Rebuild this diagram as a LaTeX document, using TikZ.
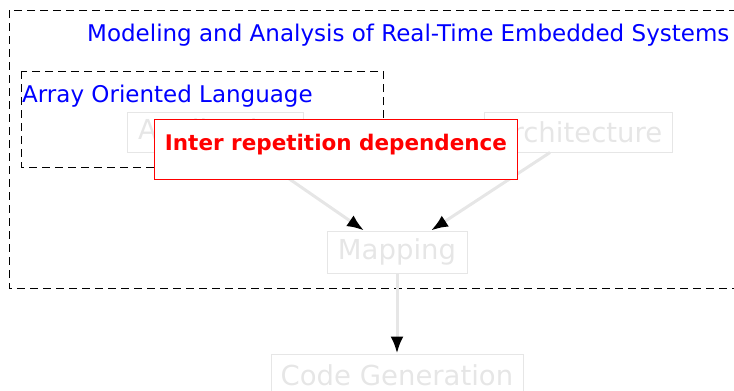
\documentclass[tikz,border=0pt]{standalone}
\usepackage{fontspec}
\setmainfont{DejaVu Sans}
\usepackage{xcolor}
\usetikzlibrary{calc,arrows.meta}

\definecolor{faded}{HTML}{E6E6E6}

\begin{document}
\begin{tikzpicture}[x=1pt,y=-1pt,
		stage/.style={draw=faded,line width=1pt,text=faded,inner sep=0pt,
			font=\fontsize{27.5}{33}\selectfont},
		frame/.style={draw,line width=1pt,dash pattern=on 8pt off 5pt},
		flow/.style={draw=faded,line width=3pt,
			-{Latex[black,length=17pt,width=13pt]}},
		caption/.style={text=blue,inner sep=0pt,font=\fontsize{23}{28}\selectfont}]
	\useasboundingbox (0,0) rectangle (734,391);
	\clip (0,0) rectangle (734,391);

	% outer and inner groups
	\draw[frame] (9,10) rectangle (745,288);
	\node[caption,anchor=base west] (title) at (87,41) {Modeling and Analysis of Real-Time Embedded Systems};
	\draw[frame] (21,71) rectangle (383,167);
	\node[caption,anchor=base west] (aol) at (22,102) {Array Oriented Language};

	% the flow
	\node[stage,minimum width=176,minimum height=40] (app) at (215,132) {Application};
	\node[stage,minimum width=188,minimum height=40] (arch) at (578,132) {Architecture};
	\node[stage,minimum width=140,minimum height=42] (map) at (397,252) {Mapping};
	\node[stage,minimum width=252,minimum height=42] (codegen) at (397,375) {Code Generation};

	\draw[flow] ([xshift=36]app.south) -- ([xshift=-33]map.north);
	\draw[flow] ([xshift=-28]arch.south) -- ([xshift=34]map.north);
	\draw[flow] (map.south) -- (codegen.north);

	% highlighted note on top
	\node[draw=red,line width=1pt,fill=white,text=red,anchor=north west,
		minimum width=363,inner ysep=0pt,text height=31pt,text depth=29pt,
		font=\fontsize{21.5}{26}\selectfont\bfseries] (irdep) at (154,119) {Inter repetition dependence};
\end{tikzpicture}
\end{document}
